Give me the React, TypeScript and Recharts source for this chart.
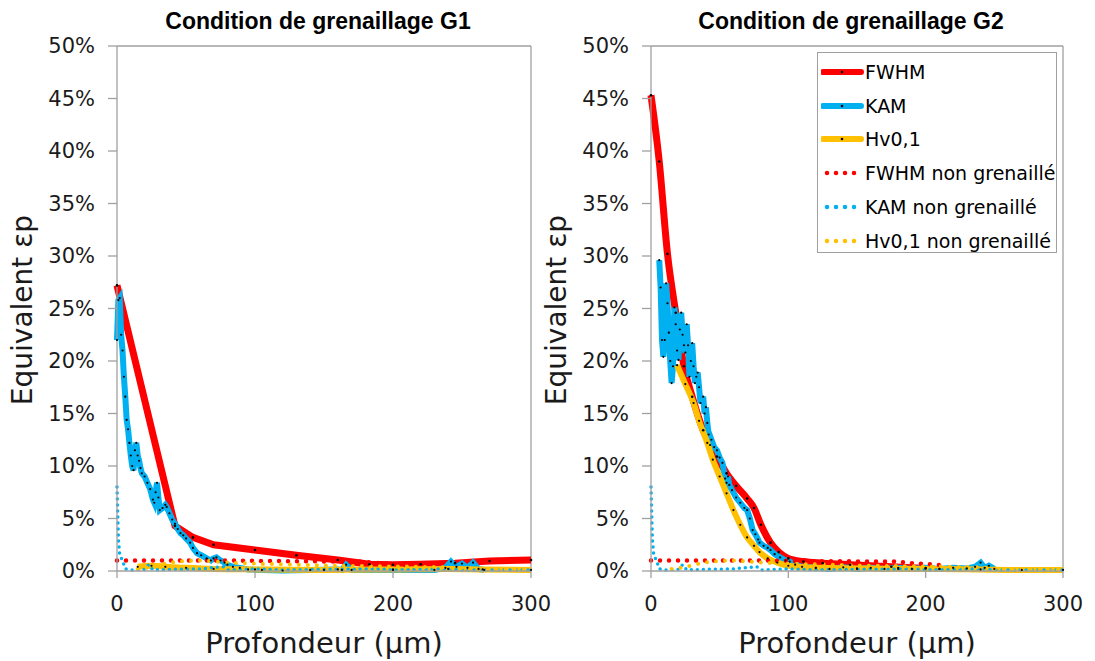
import { LineChart, Line, XAxis, YAxis, ReferenceLine } from 'recharts';

const FONT = '"DejaVu Sans", Verdana, sans-serif';
const RED = '#ff0000';
const BLUE = '#00b0f0';
const GOLD = '#ffc000';
const AXIS = '#a0a0a0';
const INK = '#1a1a1a';

const xTicks = [0, 100, 200, 300];
const yTicks = [0, 5, 10, 15, 20, 25, 30, 35, 40, 45, 50];

// [profondeur µm, equivalent εp %]
const fwhmG1 = [
  [0, 27.2], [42, 4.3], [55, 3.2], [70, 2.5], [100, 2.0], [130, 1.5], [160, 1.05],
  [183, 0.65], [200, 0.6], [220, 0.65], [245, 0.75], [270, 0.95], [300, 1.05],
];
const kamG1 = [
  [0, 22.0], [1, 25.8], [2, 26.0], [3, 22.5], [4, 21.0], [5, 18.5], [6, 16.6], [7, 14.4],
  [8, 13.5], [9, 12.2], [10, 11.0], [11, 10.0], [12, 9.6], [13, 11.5], [14, 12.2], [15, 11.0],
  [16, 10.5], [17, 9.8], [18, 9.3], [20, 9.0], [22, 8.4], [24, 7.8], [26, 6.8], [27, 6.5],
  [28, 7.5], [29, 8.4], [30, 7.0], [31, 5.8], [33, 6.0], [35, 6.3], [36, 6.1], [38, 5.5],
  [40, 4.9], [42, 4.5], [44, 4.0], [46, 3.6], [48, 3.4], [50, 3.1], [53, 2.7], [55, 2.2],
  [58, 1.7], [61, 1.5], [65, 1.2], [68, 1.0], [70, 1.2], [72, 1.3], [75, 1.0], [78, 0.8],
  [80, 0.6], [84, 0.4], [89, 0.3], [95, 0.15], [105, 0.1], [120, 0.05], [140, 0.1],
  [160, 0.15], [163, 0.1], [166, 0.6], [170, 0.1], [200, 0.1], [230, 0.1], [238, 0.3],
  [242, 0.9], [246, 0.4], [250, 0.7], [254, 0.3], [258, 0.8], [262, 0.2], [266, 0.1],
];
const hvG1 = [
  [15, 0.4], [25, 0.5], [35, 0.4], [50, 0.3], [70, 0.2], [100, 0.15], [150, 0.1],
  [200, 0.15], [240, 0.2], [265, 0.15], [300, 0.1],
];

const fwhmG2 = [
  [0, 45.3], [6, 39.0], [12, 30.2], [18, 24.6], [24, 19.5], [30, 16.6], [38, 13.4],
  [48, 10.9], [55, 9.3], [62, 8.1], [70, 6.9], [75, 6.0], [80, 4.4], [87, 2.7], [93, 1.8],
  [100, 1.2], [111, 0.9], [125, 0.75], [145, 0.6], [175, 0.4], [200, 0.25],
];
const kamG2 = [
  [6, 29.6], [7, 27.0], [8, 22.0], [9, 20.4], [10, 22.0], [11, 27.4], [12, 25.5], [13, 22.7],
  [14, 20.0], [15, 17.9], [16, 19.5], [17, 25.1], [18, 23.5], [19, 21.0], [20, 20.1],
  [21, 23.0], [22, 24.6], [23, 22.5], [24, 21.5], [25, 20.8], [26, 23.5], [27, 21.5],
  [28, 18.5], [29, 20.0], [30, 21.7], [31, 19.5], [32, 17.9], [33, 18.5], [34, 18.9],
  [35, 17.5], [36, 16.0], [38, 16.6], [39, 15.0], [40, 15.6], [41, 14.1], [42, 13.0],
  [43, 12.0], [44, 12.5], [46, 11.8], [48, 11.5], [50, 10.8], [52, 10.3], [54, 8.8],
  [55, 8.4], [56, 9.0], [57, 8.2], [59, 7.7], [62, 7.0], [65, 6.5], [68, 6.0], [70, 5.8],
  [72, 5.0], [74, 3.9], [76, 3.5], [78, 3.0], [79, 2.7], [82, 2.4], [85, 2.2], [87, 2.0],
  [90, 1.6], [94, 1.3], [98, 1.0], [101, 0.9], [105, 0.6], [110, 0.4], [120, 0.3],
  [130, 0.2], [140, 0.35], [150, 0.2], [160, 0.3], [170, 0.2], [180, 0.3], [190, 0.2],
  [200, 0.3], [210, 0.2], [220, 0.3], [230, 0.25], [236, 0.4], [240, 0.8], [243, 0.3],
  [246, 0.5], [250, 0.2],
];
const hvG2 = [
  [19, 19.6], [25, 17.8], [31, 16.0], [35, 14.3], [41, 12.2], [45, 10.6], [50, 9.0],
  [55, 7.4], [60, 5.8], [65, 4.4], [70, 3.2], [75, 2.4], [79, 1.8], [85, 1.2], [92, 0.8],
  [100, 0.5], [120, 0.3], [150, 0.25], [180, 0.2], [210, 0.2], [240, 0.15], [270, 0.1],
  [300, 0.1],
];

// état non grenaillé (même référence dans les deux graphes)
const fwhmRef = [
  [0, 1.0], [20, 1.0], [50, 1.0], [80, 1.0], [110, 0.95], [140, 0.92], [175, 0.9],
  [190, 0.75], [202, 0.65], [215, 0.5],
];
const kamRef = [
  [0, 8.0], [1, 3.0], [2, 1.5], [4, 1.0], [6, 0.2], [10, 0.1], [20, 0.15], [23, 0.6],
  [26, 0.1], [40, 0.15], [60, 0.2], [77, 0.4], [80, 0.1], [100, 0.2], [120, 0.1],
  [150, 0.15], [190, 0.2], [200, 0.1], [240, 0.2], [250, 0.1], [300, 0.1],
];
const hvRef = [
  [15, 0.2], [25, 0.4], [35, 0.7], [45, 0.9], [60, 1.0], [80, 0.8], [100, 0.7], [130, 0.6],
  [160, 0.5], [190, 0.45], [220, 0.4], [245, 0.3], [260, 0.15], [300, 0.1],
];

const legendItems = [
  { label: 'FWHM', color: RED, dotted: false },
  { label: 'KAM', color: BLUE, dotted: false },
  { label: 'Hv0,1', color: GOLD, dotted: false },
  { label: 'FWHM non grenaillé', color: RED, dotted: true },
  { label: 'KAM non grenaillé', color: BLUE, dotted: true },
  { label: 'Hv0,1 non grenaillé', color: GOLD, dotted: true },
];

const pts = (arr: number[][]) => arr.map(([x, y]) => ({ x, y }));

const H = 661;
const Y_AXIS_W = 117;

function Panel({
  left, width, right, title, fwhm, kam, hv,
}: {
  left: number; width: number; right: number; title: string;
  fwhm: number[][]; kam: number[][]; hv: number[][];
}) {
  const plotW = width - Y_AXIS_W - right;
  const cx = Y_AXIS_W + plotW / 2;
  const tick = { fill: INK, fontSize: 21, fontFamily: FONT };
  return (
    <div style={{ position: 'absolute', left, top: 0, width, height: H }}>
      <div
        style={{
          position: 'absolute', left: cx - 6 - 220, width: 440, top: 8, textAlign: 'center',
          fontFamily: '"Liberation Sans", Arial, sans-serif', fontWeight: 'bold', fontSize: 23,
          color: '#000', lineHeight: '27px',
        }}
      >
        {title}
      </div>
      <LineChart width={width} height={H} margin={{ top: 46, right, bottom: 0, left: 0 }}>
        <XAxis
          type="number" dataKey="x" domain={[0, 300]} ticks={xTicks} height={90}
          stroke={AXIS} strokeWidth={1.3} tickSize={7} tickMargin={18} tick={tick}
          label={{
            content: () => (
              <text x={cx} y={653} textAnchor="middle" fontSize={29} fontFamily={FONT} fill={INK}>
                Profondeur (µm)
              </text>
            ),
          }}
        />
        <YAxis
          type="number" dataKey="y" domain={[0, 50]} ticks={yTicks} width={Y_AXIS_W}
          stroke={AXIS} strokeWidth={1.3} tickSize={9} tickMargin={13} tick={tick}
          tickFormatter={(v: number) => `${v}%`}
          label={{
            content: () => (
              <text
                x={32} y={310} transform="rotate(-90, 32, 310)" textAnchor="middle"
                fontSize={28} fontFamily={FONT} fill={INK}
              >
                Equivalent εp
              </text>
            ),
          }}
        />
        <ReferenceLine y={50} stroke={AXIS} strokeWidth={1.3} />
        <ReferenceLine x={300} stroke={AXIS} strokeWidth={1.3} />
        <Line
          data={pts(fwhm)} dataKey="y" type={title.endsWith('G2') ? 'monotone' : 'linear'}
          stroke={RED} strokeWidth={7} dot={{ r: 1.3, fill: '#000', stroke: 'none' }}
          activeDot={false} isAnimationActive={false}
        />
        <Line
          data={pts(kam)} dataKey="y" type="linear" stroke={BLUE} strokeWidth={6}
          dot={{ r: 1.1, fill: '#000', stroke: 'none' }} activeDot={false} isAnimationActive={false}
        />
        <Line
          data={pts(hv)} dataKey="y" type="monotone" stroke={GOLD} strokeWidth={6}
          dot={{ r: 1.1, fill: '#000', stroke: 'none' }} activeDot={false} isAnimationActive={false}
        />
        <Line
          data={pts(fwhmRef)} dataKey="y" type="monotone" stroke={RED} strokeWidth={4.5}
          strokeDasharray="0 9" strokeLinecap="round" dot={false} activeDot={false}
          isAnimationActive={false}
        />
        <Line
          data={pts(kamRef)} dataKey="y" type="linear" stroke={BLUE} strokeWidth={3.5}
          strokeDasharray="0 6" strokeLinecap="round" dot={false} activeDot={false}
          isAnimationActive={false}
        />
        <Line
          data={pts(hvRef)} dataKey="y" type="monotone" stroke={GOLD} strokeWidth={4}
          strokeDasharray="0 9" strokeLinecap="round" dot={false} activeDot={false}
          isAnimationActive={false}
        />
      </LineChart>
    </div>
  );
}

function LegendBox() {
  return (
    <div
      style={{
        position: 'absolute', left: 817, top: 52, width: 240, height: 201, boxSizing: 'border-box',
        border: `1.5px solid ${AXIS}`, background: '#fff', fontFamily: FONT, fontSize: 19,
        color: '#000', paddingTop: 2,
      }}
    >
      {legendItems.map((it) => (
        <div key={it.label} style={{ display: 'flex', alignItems: 'center', height: 33.8 }}>
          <svg width={44} height={12} style={{ marginLeft: 3, flex: 'none' }}>
            {it.dotted ? (
              <line
                x1={6} y1={6} x2={34} y2={6} stroke={it.color} strokeWidth={4.5}
                strokeDasharray="0 9" strokeLinecap="round"
              />
            ) : (
              <>
                <line x1={2} y1={6} x2={40} y2={6} stroke={it.color} strokeWidth={6} strokeLinecap="round" />
                <circle cx={21} cy={6} r={1.3} fill="#000" />
              </>
            )}
          </svg>
          <span style={{ whiteSpace: 'nowrap' }}>{it.label}</span>
        </div>
      ))}
    </div>
  );
}

export default function App() {
  return (
    <div style={{ position: 'absolute', left: 0, top: 0, width: 1095, height: H, background: '#fff' }}>
      <Panel left={0} width={562} right={31} title="Condition de grenaillage G1" fwhm={fwhmG1} kam={kamG1} hv={hvG1} />
      <Panel left={534} width={561} right={32} title="Condition de grenaillage G2" fwhm={fwhmG2} kam={kamG2} hv={hvG2} />
      <LegendBox />
    </div>
  );
}
